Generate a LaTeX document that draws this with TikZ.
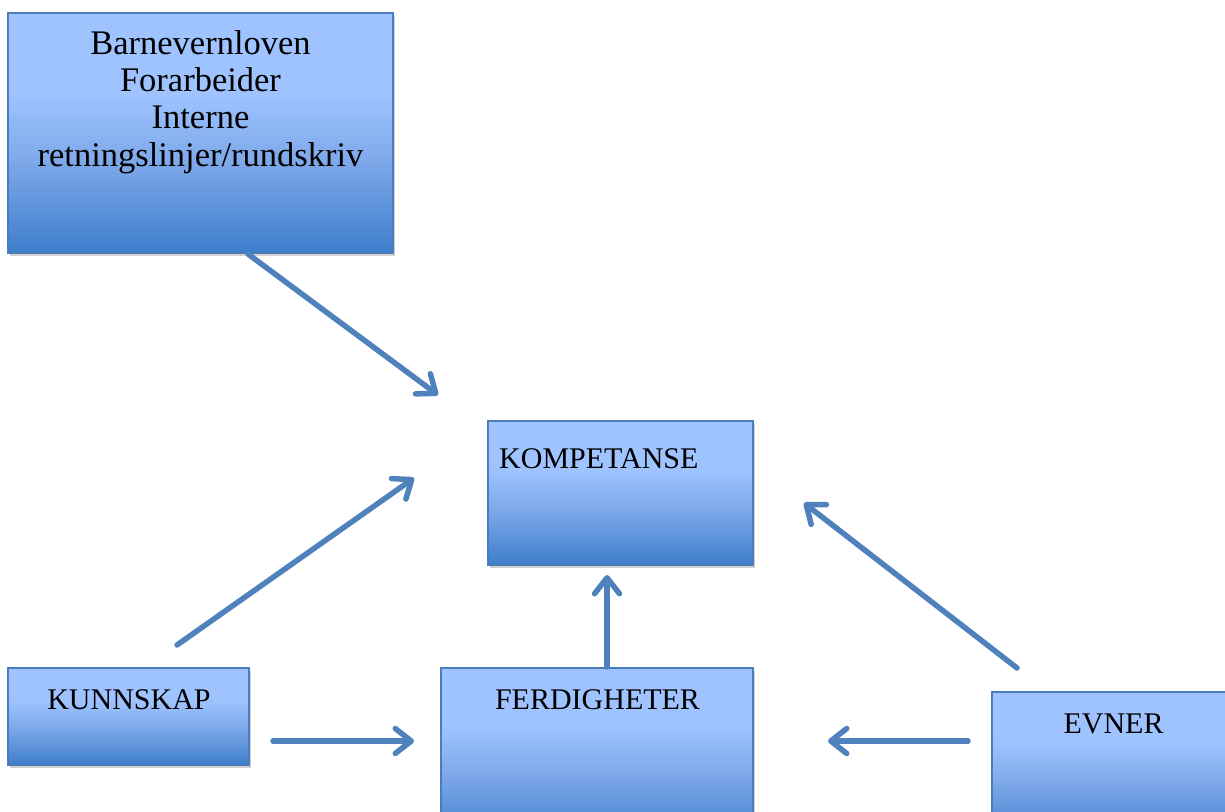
\documentclass[tikz,border=0pt]{standalone}
\usepackage{fontspec}
\setmainfont{Liberation Serif}
\usetikzlibrary{arrows.meta,shadows}
\definecolor{boxtop}{RGB}{158,195,255}
\definecolor{boxmid}{RGB}{128,170,235}
\definecolor{boxbot}{RGB}{62,126,204}
\definecolor{boxline}{RGB}{74,126,187}
\definecolor{arrowc}{RGB}{79,129,189}
\pgfdeclareverticalshading{boxgrad}{100bp}{color(0bp)=(boxbot); color(25bp)=(boxbot); color(45bp)=(boxmid); color(58bp)=(boxtop); color(100bp)=(boxtop)}
\begin{document}
\begin{tikzpicture}[x=1pt,y=-1pt,
  box/.style={draw=boxline, line width=1.2pt, shade, shading=boxgrad,
    drop shadow={shadow xshift=2pt,shadow yshift=-3pt,opacity=0.18,fill=black},
    inner sep=0, rectangle},
  lbl/.style={font=\fontsize{30}{34}\selectfont, inner sep=0, anchor=base},
  conn/.style={draw=arrowc, line width=5.5pt, line cap=round,
    -{Straight Barb[length=16pt,width=25pt,round]}}]
\useasboundingbox (0,0) rectangle (1225,811);
\clip (0,0) rectangle (1225,811);
% boxes
\node[box, minimum width=385pt, minimum height=240pt] (law) at (200.5,133) {};
\node[box, minimum width=265pt, minimum height=144pt] (komp) at (620.5,493) {};
\node[box, minimum width=241pt, minimum height=97pt] (kunn) at (128.5,716.5) {};
\node[box, minimum width=312pt, minimum height=172pt] (ferd) at (597,754) {};
\node[box, minimum width=258pt, minimum height=148pt] (evner) at (1121,766) {};
% texts
\node[font=\fontsize{34.5}{37.3}\selectfont, inner sep=0, align=center, anchor=north] (lawtxt) at (200.5,30)
  {Barnevernloven\\Forarbeider\\Interne\\retningslinjer/rundskriv};
\node[lbl, anchor=base west] (komptxt) at (499,468) {KOMPETANSE};
\node[lbl] (kunntxt) at (129,709) {KUNNSKAP};
\node[lbl] (ferdtxt) at (597.5,709) {FERDIGHETER};
\node[lbl] (evnertxt) at (1113.5,733) {EVNER};
% connector ends
\coordinate (a1s) at (248,254);
\coordinate (a1e) at (438,395);
\coordinate (a2s) at (177,645);
\coordinate (a2e) at (414,478);
\coordinate (a3s) at (607,667);
\coordinate (a3e) at (607,575);
\coordinate (a4s) at (1017,668);
\coordinate (a4e) at (804,503);
\coordinate (a5s) at (273,741);
\coordinate (a5e) at (414,741);
\coordinate (a6s) at (968,741);
\coordinate (a6e) at (828,741);
\draw[conn] (a1s) -- (a1e);
\draw[conn] (a2s) -- (a2e);
\draw[conn] (a3s) -- (a3e);
\draw[conn] (a4s) -- (a4e);
\draw[conn] (a5s) -- (a5e);
\draw[conn] (a6s) -- (a6e);
\end{tikzpicture}
\end{document}
